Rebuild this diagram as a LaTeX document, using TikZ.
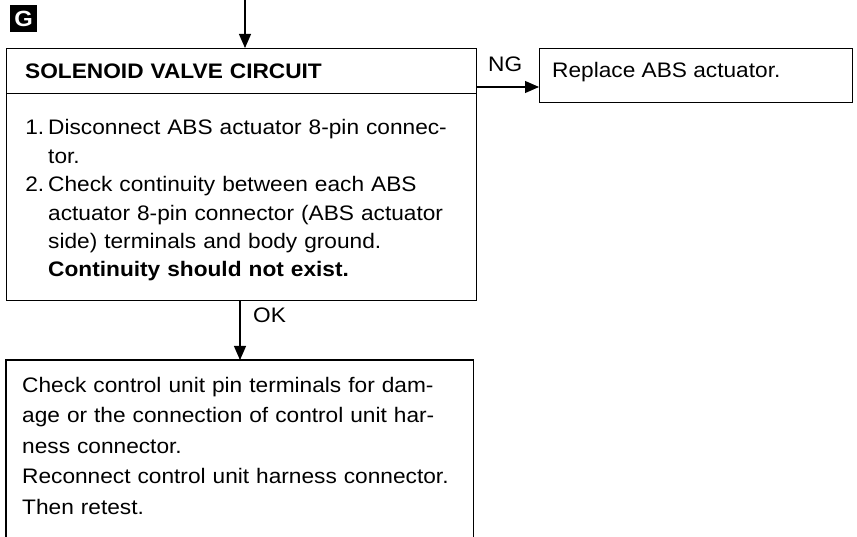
\documentclass[tikz,border=0pt]{standalone}
\usepackage{fontspec}
\setmainfont{Liberation Sans}[FakeStretch=1.08]
\usetikzlibrary{arrows.meta,calc}
\begin{document}
\begin{tikzpicture}[x=1pt,y=-1pt,
  box/.style={draw, line width=1.2pt, rectangle, inner sep=0pt, anchor=north west},
  txt/.style={anchor=base west, inner sep=0pt, align=left, font=\fontsize{21pt}{28.4pt}\selectfont},
  arr/.style={line width=1.1pt, -{Triangle[length=14pt,width=12pt]}}]
\useasboundingbox (0,0) rectangle (857,537);
% boxes
\node[box, minimum width=470pt, minimum height=45pt] (title) at (6,48) {};
\node[box, minimum width=470pt, minimum height=207pt] (main) at (6,93) {};
\node[box, minimum width=313pt, minimum height=54pt] (replace) at (539,48) {};
\node[minimum width=467pt, minimum height=200pt, inner sep=0pt, anchor=north west] (final) at (6,360) {};
\draw[line width=1.2pt] (final.south west) -- (final.north west) -- (final.north east) -- (final.south east);
% G label
\node[fill=black, text=white, minimum size=27pt, inner sep=0pt, anchor=north west,
      font=\bfseries\fontsize{22pt}{22pt}\selectfont] (glabel) at (10,5) {G};
% texts
\node[txt, text width=440pt] (titletext) at (25,79) {\textbf{SOLENOID VALVE CIRCUIT}};
\node[txt, text width=425pt] (maintext) at (48,135) {\leavevmode\llap{1.\hspace{4pt}}Disconnect ABS actuator 8-pin connec-\\
tor.\\
\leavevmode\llap{2.\hspace{4pt}}Check continuity between each ABS\\
actuator 8-pin connector (ABS actuator\\
side) terminals and body ground.\\
\textbf{Continuity should not exist.}};
\node[txt, font=\fontsize{21pt}{30.5pt}\selectfont, text width=445pt] (finaltext) at (22,392) {Check control unit pin terminals for dam-\\
age or the connection of control unit har-\\
ness connector.\\
Reconnect control unit harness connector.\\
Then retest.};
\node[txt] (replacetext) at (552,78) {Replace ABS actuator.};
\node[txt] (nglabel) at (488,72) {NG};
\node[txt] (oklabel) at (253,323) {OK};
% connectors
\coordinate (intop) at (245,-2);
\draw[arr] (intop) -- (title.north -| intop);
\coordinate (ngy) at (0,87);
\draw[arr] (title.east |- ngy) -- (replace.west |- ngy);
\coordinate (okx) at (240,0);
\draw[arr] (main.south -| okx) -- (final.north -| okx);
\end{tikzpicture}
\end{document}
